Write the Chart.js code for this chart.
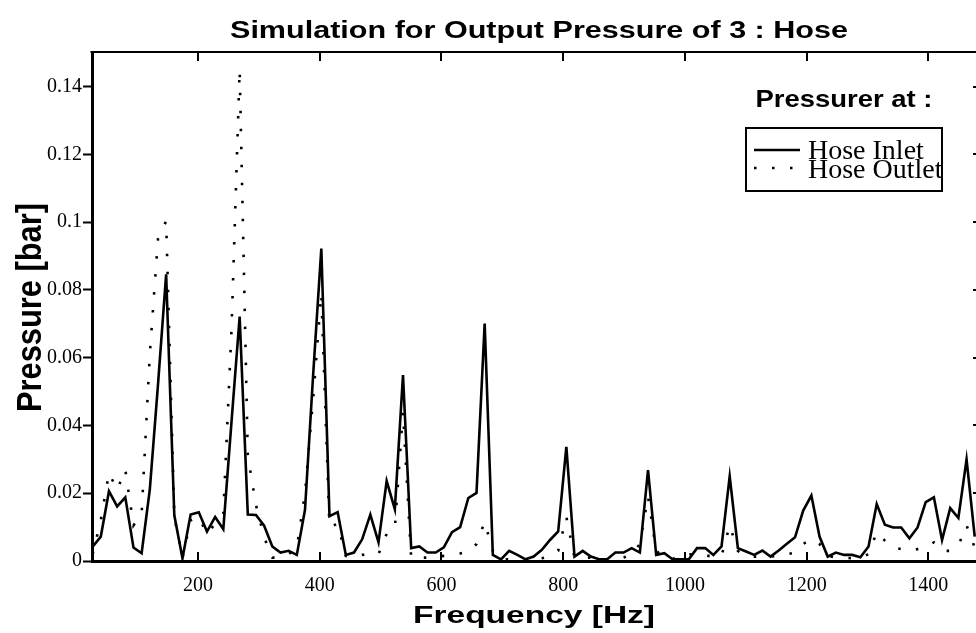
<!DOCTYPE html>
<html>
<head>
<meta charset="utf-8">
<title>Simulation for Output Pressure of 3 : Hose</title>
<script src="https://cdn.jsdelivr.net/npm/chart.js@4.4.0/dist/chart.umd.min.js"></script>
<style>
  html, body { margin: 0; padding: 0; background: #fff; }
  #grafico { display: block; }
</style>
</head>
<body>
<canvas id="grafico" width="976" height="633"></canvas>
<script>
// ========== dados ==========
const freqHz = [
  26.84, 40.26, 53.68, 67.1, 80.52, 93.94, 107.36, 120.78, 134.2, 147.62,
  161.04, 174.46, 187.88, 201.3, 214.72, 228.14, 241.56, 254.98, 268.4, 281.82,
  295.24, 308.66, 322.08, 335.5, 348.92, 362.34, 375.76, 389.18, 402.6, 416.02,
  429.44, 442.86, 456.28, 469.7, 483.12, 496.54, 509.96, 523.38, 536.8, 550.22,
  563.64, 577.06, 590.48, 603.9, 617.32, 630.74, 644.16, 657.58, 671, 684.42,
  697.84, 711.26, 724.68, 738.1, 751.52, 764.94, 778.36, 791.78, 805.2, 818.62,
  832.04, 845.46, 858.88, 872.3, 885.72, 899.14, 912.56, 925.98, 939.4, 952.82,
  966.24, 979.66, 993.08, 1006.5, 1019.92, 1033.34, 1046.76, 1060.18, 1073.6, 1087.02,
  1100.44, 1113.86, 1127.28, 1140.7, 1154.12, 1167.54, 1180.96, 1194.38, 1207.8, 1221.22,
  1234.64, 1248.06, 1261.48, 1274.9, 1288.32, 1301.74, 1315.16, 1328.58, 1342, 1355.42,
  1368.84, 1382.26, 1395.68, 1409.1, 1422.52, 1435.94, 1449.36, 1462.78, 1476.2
];

const hoseInlet = [
  0.0042, 0.0072, 0.0206, 0.0161, 0.0188, 0.0040, 0.0023, 0.0211, 0.052, 0.0846,
  0.0135, 0.0008, 0.0137, 0.0144, 0.0087, 0.0130, 0.0094, 0.041, 0.0721, 0.0137,
  0.0136, 0.0104, 0.0043, 0.0025, 0.0030, 0.0018, 0.0151, 0.055, 0.0922, 0.0132,
  0.0144, 0.0018, 0.0025, 0.0064, 0.0137, 0.0055, 0.0236, 0.0153, 0.0549, 0.0038,
  0.0043, 0.0025, 0.0025, 0.0040, 0.0085, 0.0100, 0.0186, 0.0201, 0.0701, 0.0018,
  0.0005, 0.0030, 0.0018, 0.0005, 0.0013, 0.0033, 0.0062, 0.0087, 0.0337, 0.0013,
  0.0030, 0.0013, 0.0005, 0.0005, 0.0025, 0.0025, 0.0038, 0.0025, 0.0268, 0.0018,
  0.0023, 0.0005, 0.0005, 0.0005, 0.0038, 0.0038, 0.0018, 0.0043, 0.0250, 0.0038,
  0.0028, 0.0018, 0.0031, 0.0013, 0.0031, 0.0051, 0.0070, 0.0149, 0.0193, 0.0072,
  0.0013, 0.0025, 0.0018, 0.0018, 0.0011, 0.0043, 0.0168, 0.0107, 0.0099, 0.0099,
  0.0067, 0.0099, 0.0174, 0.0188, 0.0062, 0.0156, 0.0127, 0.0300, 0.0072
];

const hoseOutlet = [
  0.002, 0.012, 0.026, 0.021, 0.027, 0.0105, 0.014, 0.061, 0.095, 0.1003,
  0.013, 0.001, 0.012, 0.013, 0.008, 0.011, 0.014, 0.068, 0.145, 0.031,
  0.0165, 0.007, 0.001, 0.001, 0.002, 0.004, 0.020, 0.048, 0.079, 0.010,
  0.011, 0.0015, 0.001, 0.0018, 0.002, 0.002, 0.008, 0.0095, 0.044, 0.001,
  0.001, 0.001, 0.0013, 0.0015, 0.0018, 0.0022, 0.0028, 0.005, 0.0115, 0.003,
  0.0005, 0.0005, 0.0005, 0.0005, 0.0005, 0.0008, 0.0015, 0.003, 0.013, 0.001,
  0.001, 0.001, 0.0005, 0.0005, 0.0008, 0.001, 0.002, 0.005, 0.019, 0.003,
  0.001, 0.0005, 0.002, 0.002, 0.002, 0.0015, 0.0015, 0.0015, 0.0105, 0.003,
  0.0015, 0.0013, 0.0013, 0.0013, 0.0015, 0.002, 0.0025, 0.005, 0.0065, 0.005,
  0.0015, 0.001, 0.001, 0.0008, 0.001, 0.002, 0.0085, 0.006, 0.004, 0.0035,
  0.003, 0.0035, 0.004, 0.0055, 0.003, 0.003, 0.0045, 0.0105, 0.004
];

const xTicks = [200, 400, 600, 800, 1000, 1200, 1400];
const yTicks = [0, 0.02, 0.04, 0.06, 0.08, 0.1, 0.12, 0.14];

const chartTitle = "Simulation for Output Pressure of 3 : Hose";
const xTitle = "Frequency [Hz]";
const yTitle = "Pressure [bar]";
const legendTitle = "Pressurer at :";
const seriesNames = ["Hose Inlet", "Hose Outlet"];

const SANS = "'Liberation Sans', Arial, sans-serif";
const SERIF = "'Liberation Serif', 'Times New Roman', serif";

function pontos(valores) {
  return valores.map((v, i) => ({ x: freqHz[i], y: v }));
}

// texto esticado ate uma largura (os titulos do original sao largos)
function textoLargo(ctx, txt, x, y, font, largura, angulo, escalaAltura) {
  ctx.save();
  ctx.translate(x, y);
  ctx.rotate(angulo || 0);
  ctx.font = font;
  const w = ctx.measureText(txt).width;
  ctx.scale(largura / w, escalaAltura || 1);
  ctx.textAlign = "center";
  ctx.textBaseline = "alphabetic";
  ctx.fillStyle = "#000";
  ctx.fillText(txt, 0, 0);
  ctx.restore();
}

// ========== moldura, ticks internos, titulos e legenda ==========
const moldura = {
  id: "moldura",
  afterDraw(chart) {
    const ctx = chart.ctx;
    const a = chart.chartArea;
    const sx = chart.scales.x;
    const sy = chart.scales.y;

    ctx.save();
    ctx.strokeStyle = "#000";
    ctx.lineWidth = 2;
    ctx.beginPath();
    ctx.moveTo(a.left - 1.5, a.top);
    ctx.lineTo(a.right, a.top);
    ctx.stroke();

    xTicks.forEach((v) => {
      const px = Math.round(sx.getPixelForValue(v));
      ctx.beginPath();
      ctx.moveTo(px, a.bottom);
      ctx.lineTo(px, a.bottom - 9);
      ctx.moveTo(px, a.top);
      ctx.lineTo(px, a.top + 9);
      ctx.stroke();
    });

    yTicks.forEach((v) => {
      const py = Math.round(sy.getPixelForValue(v));
      ctx.beginPath();
      ctx.moveTo(chart.width - 3, py);
      ctx.lineTo(chart.width, py);
      ctx.stroke();
    });

    // titulos
    textoLargo(ctx, chartTitle, 539, 38, "bold 23px " + SANS, 618);
    textoLargo(ctx, xTitle, 534, 623, "bold 24px " + SANS, 242);
    textoLargo(ctx, yTitle, 41, 307.5, "bold 30px " + SANS, 209, -Math.PI / 2, 1.18);

    // legenda
    textoLargo(ctx, legendTitle, 844, 107, "bold 24px " + SANS, 177);

    ctx.lineWidth = 2;
    ctx.strokeRect(746, 128, 196, 63);

    ctx.lineWidth = 2.4;
    ctx.beginPath();
    ctx.moveTo(754, 150);
    ctx.lineTo(800, 150);
    ctx.stroke();

    ctx.setLineDash([2.5, 15.5]);
    ctx.beginPath();
    ctx.moveTo(754, 168);
    ctx.lineTo(800, 168);
    ctx.stroke();
    ctx.setLineDash([]);

    ctx.fillStyle = "#000";
    ctx.font = "28px " + SERIF;
    ctx.textAlign = "left";
    ctx.textBaseline = "alphabetic";
    ctx.fillText(seriesNames[0], 808, 159);
    ctx.fillText(seriesNames[1], 808, 178);
    ctx.restore();
  },
};

// ========== grafico ==========
const fonteTicks = { family: SERIF, size: 20 };

new Chart(document.getElementById("grafico").getContext("2d"), {
  type: "line",
  data: {
    datasets: [
      {
        label: seriesNames[0],
        data: pontos(hoseInlet),
        borderColor: "#000",
        borderWidth: 2.6,
        pointRadius: 0,
        tension: 0,
        fill: false,
      },
      {
        label: seriesNames[1],
        data: pontos(hoseOutlet),
        borderColor: "#000",
        borderWidth: 2.6,
        borderDash: [2.5, 15.5],
        pointRadius: 0,
        tension: 0,
        fill: false,
      },
    ],
  },
  options: {
    responsive: false,
    animation: false,
    devicePixelRatio: 1,
    layout: { padding: { top: 52, left: 0, right: 0, bottom: 0 } },
    plugins: {
      legend: { display: false },
      title: { display: false },
      tooltip: { enabled: false },
    },
    scales: {
      x: {
        type: "linear",
        min: 25.8,
        max: 1478.3,
        afterBuildTicks: (s) => {
          s.ticks = xTicks.map((v) => ({ value: v }));
        },
        afterFit: (s) => {
          s.height = 72;
        },
        grid: { display: false },
        border: { display: true, color: "#000", width: 3 },
        ticks: {
          color: "#000",
          font: fonteTicks,
          padding: 5,
          maxRotation: 0,
          autoSkip: false,
          callback: (v) => String(v),
        },
      },
      y: {
        type: "linear",
        min: 0,
        max: 0.1502,
        afterBuildTicks: (s) => {
          s.ticks = yTicks.map((v) => ({ value: v }));
        },
        afterFit: (s) => {
          s.width = 92;
        },
        grid: {
          drawOnChartArea: false,
          drawTicks: true,
          tickLength: 9,
          tickWidth: 2,
          tickColor: "#000",
        },
        border: { display: true, color: "#000", width: 3 },
        ticks: {
          color: "#000",
          font: fonteTicks,
          padding: 1,
          autoSkip: false,
          callback: (v) => String(Number(v.toFixed(2))),
        },
      },
    },
  },
  plugins: [moldura],
});
</script>
</body>
</html>
